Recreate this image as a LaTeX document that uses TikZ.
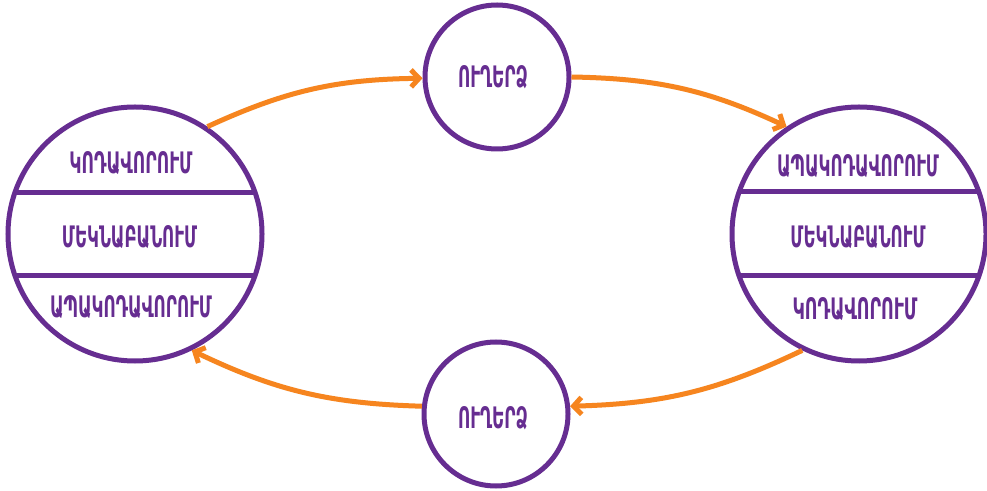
\documentclass[tikz,border=0pt]{standalone}
\usepackage{fontspec}
\usepackage{graphicx}
\newfontfamily\armfont{DejaVu Sans Condensed}
\usetikzlibrary{arrows.meta,calc}
\definecolor{ringpurple}{HTML}{662D91}
\definecolor{flow}{HTML}{F6851F}

\tikzset{
  ring/.style={circle, draw=ringpurple, line width=5pt, inner sep=0pt, fill=white},
  chord/.style={draw=ringpurple, line width=5pt},
  flowarrow/.style={draw=flow, line width=5pt,
    -{Straight Barb[length=8pt,width=17pt,line width=5pt]}, bend left=12},
  lbl/.style={text=ringpurple, inner sep=0pt, font=\armfont\bfseries},
}
% stretch a caption to a given width and cap height
\newcommand\armcap[2]{\resizebox{#1}{22pt}{#2}}

\begin{document}
\begin{tikzpicture}[x=1pt,y=1pt]
  \useasboundingbox[fill=white] (0,0) rectangle (987,490);

  % the two stations and the two message rings
  \node[ring, minimum size=254pt] (L) at (135,256) {};
  \node[ring, minimum size=254pt] (R) at (859,256) {};
  \node[ring, minimum size=144pt] (T) at (497,413) {};
  \node[ring, minimum size=144pt] (B) at (496,76) {};

  % dividing bands inside the stations
  \begin{scope}
    \clip (L.center) circle (127pt);
    \draw[chord] ($(L.center)+(-140,41)$) -- ($(L.center)+(140,41)$);
    \draw[chord] ($(L.center)+(-140,-42)$) -- ($(L.center)+(140,-42)$);
  \end{scope}
  \begin{scope}
    \clip (R.center) circle (127pt);
    \draw[chord] ($(R.center)+(-140,42)$) -- ($(R.center)+(140,42)$);
    \draw[chord] ($(R.center)+(-140,-42)$) -- ($(R.center)+(140,-42)$);
  \end{scope}

  % captions
  \node[lbl] (L1) at (131,327) {\armcap{123pt}{ԿՈԴԱՎՈՐՈՒՄ}};
  \node[lbl] (L2) at (129.5,252.5) {\armcap{135pt}{ՄԵԿՆԱԲԱՆՈՒՄ}};
  \node[lbl] (L3) at (131,182.5) {\armcap{162pt}{ԱՊԱԿՈԴԱՎՈՐՈՒՄ}};

  \node[lbl] (R1) at (858,324) {\armcap{162pt}{ԱՊԱԿՈԴԱՎՈՐՈՒՄ}};
  \node[lbl] (R2) at (858,253) {\armcap{135pt}{ՄԵԿՆԱԲԱՆՈՒՄ}};
  \node[lbl] (R3) at (855,181) {\armcap{125pt}{ԿՈԴԱՎՈՐՈՒՄ}};

  \node[lbl] (T1) at (493,412.5) {\armcap{70pt}{ՈՒՂԵՐՁ}};
  \node[lbl] (B1) at (493,72) {\armcap{70pt}{ՈՒՂԵՐՁ}};

  % message flow
  \draw[flowarrow] (L.56) to (T.181);
  \draw[flowarrow] (T.0) to (R.124);
  \draw[flowarrow] (R.244) to (B.6);
  \draw[flowarrow] (B.174) to (L.296);
\end{tikzpicture}
\end{document}
